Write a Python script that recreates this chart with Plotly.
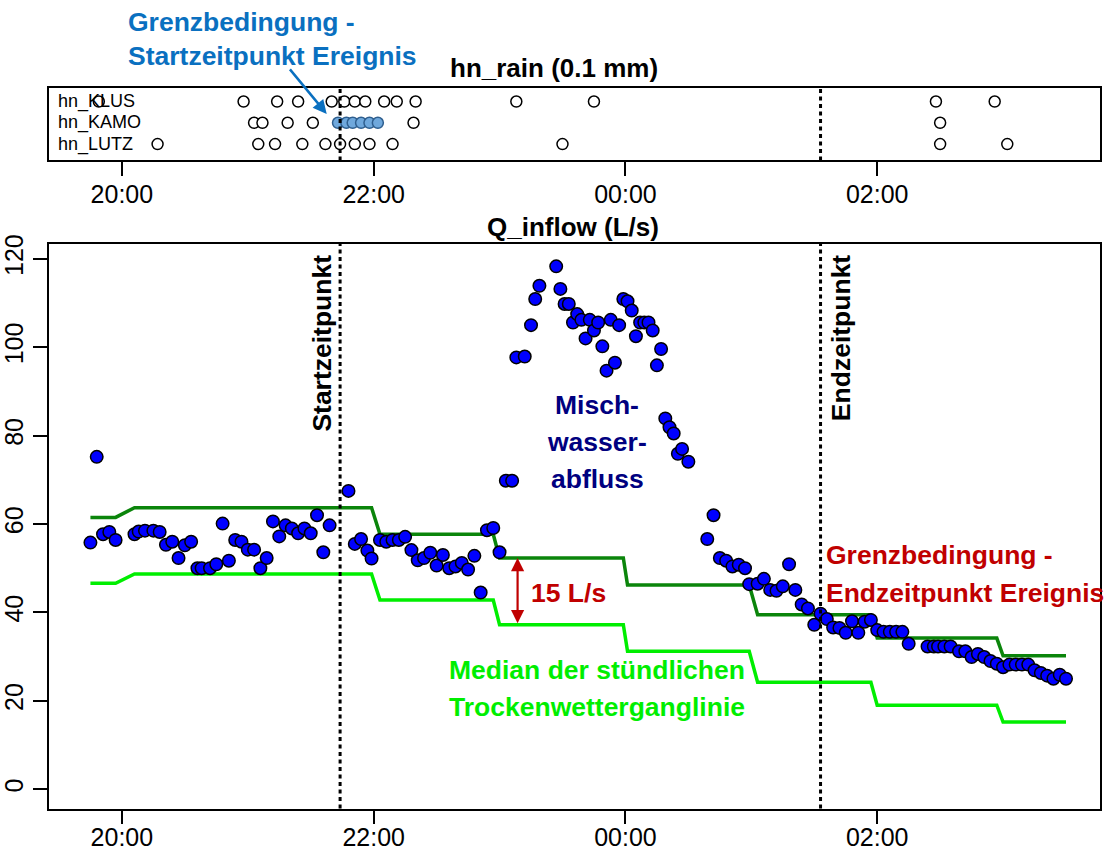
import plotly.graph_objects as go
from datetime import datetime

W, H = 1108, 856
FONT = "Liberation Sans, Arial, sans-serif"

# ---------------- data ----------------
q_times = ["19:45", "19:48", "19:51", "19:54", "19:57", "20:06", "20:08", "20:11", "20:15", "20:18",
           "20:21", "20:24", "20:27", "20:30", "20:33", "20:36", "20:38", "20:42", "20:45", "20:48",
           "20:51", "20:54", "20:57", "21:00", "21:03", "21:06", "21:09", "21:12", "21:15", "21:18",
           "21:21", "21:24", "21:27", "21:30", "21:33", "21:36", "21:39", "21:48", "21:51", "21:54",
           "21:57", "21:59", "22:03", "22:06", "22:09", "22:12", "22:15", "22:18", "22:21", "22:24",
           "22:27", "22:30", "22:33", "22:36", "22:39", "22:42", "22:45", "22:48", "22:51", "22:54",
           "22:57", "23:00", "23:03", "23:06", "23:08", "23:12", "23:15", "23:17", "23:19", "23:27",
           "23:29", "23:31", "23:33", "23:35", "23:37", "23:39", "23:41", "23:43", "23:45", "23:47",
           "23:49", "23:51", "23:53", "23:55", "23:57", "23:59", "00:01", "00:03", "00:05", "00:07",
           "00:09", "00:11", "00:13", "00:15", "00:17", "00:19", "00:21", "00:23", "00:25", "00:27",
           "00:30", "00:39", "00:42", "00:45", "00:48", "00:51", "00:54", "00:57", "00:59", "01:03",
           "01:06", "01:09", "01:12", "01:15", "01:18", "01:21", "01:24", "01:27", "01:30", "01:33",
           "01:36", "01:39", "01:42", "01:45", "01:48", "01:51", "01:54", "01:57", "02:00", "02:03",
           "02:06", "02:09", "02:12", "02:15", "02:24", "02:27", "02:29", "02:32", "02:35", "02:39",
           "02:42", "02:45", "02:48", "02:51", "02:54", "02:57", "03:00", "03:03", "03:06", "03:09",
           "03:12", "03:15", "03:18", "03:21", "03:24", "03:27", "03:30"]
q_values = [55.8, 75.2, 57.7, 58.2, 56.4, 57.7, 58.3, 58.5, 58.5, 58.2,
            55.3, 56.0, 52.3, 55.2, 56.0, 50.0, 50.0, 50.0, 50.9, 60.1,
            51.7, 56.4, 56.0, 54.2, 54.2, 50.0, 52.3, 60.6, 57.2, 59.7,
            59.0, 57.9, 59.0, 57.9, 62.0, 53.6, 59.7, 67.5, 55.5, 56.6,
            54.0, 52.2, 56.4, 56.0, 56.4, 56.4, 57.1, 54.1, 51.8, 52.3,
            53.5, 50.6, 53.0, 50.0, 50.4, 51.2, 49.7, 52.8, 44.5, 58.6,
            59.1, 53.6, 69.8, 69.8, 97.7, 97.9, 105.0, 110.9, 113.9, 118.3,
            113.2, 109.8, 109.8, 105.6, 107.5, 106.2, 102.0, 106.2, 103.8, 105.6,
            100.2, 94.7, 106.2, 96.5, 105.0, 110.9, 110.4, 108.3, 102.5, 105.6,
            105.6, 105.6, 103.8, 95.9, 99.6, 83.9, 81.9, 80.5, 75.9, 77.0,
            74.1, 56.6, 62.0, 52.3, 51.7, 50.4, 50.8, 50.0, 46.4, 46.5,
            47.6, 45.1, 44.9, 45.9, 50.9, 45.1, 41.8, 40.9, 37.2, 39.7,
            38.5, 36.6, 36.5, 35.4, 38.0, 35.4, 37.9, 38.3, 36.0, 35.6,
            35.6, 35.6, 35.6, 32.9, 32.3, 32.3, 32.3, 32.3, 32.3, 31.2,
            31.2, 29.9, 30.6, 29.9, 29.0, 28.4, 27.6, 28.2, 28.2, 28.2,
            28.2, 26.9, 26.3, 25.7, 25.0, 25.9, 25.0]

# hourly median of the dry-weather hydrograph and the +15 L/s limit
median_hours = [19, 20, 21, 22, 23, 0, 1, 2, 3]
median_dry = [46.6, 48.7, 48.7, 42.8, 37.2, 31.2, 24.2, 19.0, 15.2]
median_limit = [61.5, 63.7, 63.7, 57.7, 52.3, 46.2, 39.5, 34.2, 30.2]

rain_stations = ["hn_KLUS", "hn_KAMO", "hn_LUTZ"]
rain_klus = ["19:49", "20:58", "21:14", "21:24", "21:40", "21:46", "21:51", "21:56", "22:05",
             "22:11", "22:20", "23:08", "23:45", "02:28", "02:56"]
rain_kamo = ["21:03", "21:07", "21:19", "21:31", "22:19", "02:30"]
rain_kamo_start = ["21:43", "21:47", "21:50", "21:54", "21:58", "22:02"]
rain_lutz = ["20:17", "21:05", "21:13", "21:26", "21:37", "21:44", "21:51", "21:58", "22:09",
             "23:30", "02:30", "03:02"]

start_time = "21:44"
end_time = "01:33"
x_ticks = ["20:00", "22:00", "00:00", "02:00"]
y_ticks = [0, 20, 40, 60, 80, 100, 120]
x_range = ["19:25:14", "03:46:12"]
arrow_time = "23:08:36"


def to_dt(s):
    parts = [int(p) for p in s.split(":")]
    h, m = parts[0], parts[1]
    sec = parts[2] if len(parts) > 2 else 0
    day = 23 if h >= 12 else 24
    return datetime(2019, 7, day, h, m, sec)


q_dt = [to_dt(t) for t in q_times]
lim_map = dict(zip(median_hours, median_limit))
dry_map = dict(zip(median_hours, median_dry))
lim_line = [lim_map[d.hour] for d in q_dt]
dry_line = [dry_map[d.hour] for d in q_dt]


def px(x):
    return x / W


def py(y):
    return 1 - y / H


BLUE_TXT = "#0a70c0"
RED = "#c00000"
NAVY = "#00007f"
LGREEN = "#00ee00"
DGREEN = "#0b850b"

fig = go.Figure()

# ---------- rain panel ----------
row_y = {"hn_KLUS": 3, "hn_KAMO": 2, "hn_LUTZ": 1}
for name, times in [("hn_KLUS", rain_klus), ("hn_KAMO", rain_kamo), ("hn_LUTZ", rain_lutz)]:
    fig.add_trace(go.Scatter(
        x=[to_dt(t) for t in times], y=[row_y[name]] * len(times), mode="markers",
        marker=dict(size=11, color="white", line=dict(color="black", width=1.5)),
        xaxis="x", yaxis="y", showlegend=False, hoverinfo="skip"))
fig.add_trace(go.Scatter(
    x=[to_dt(t) for t in rain_kamo_start], y=[row_y["hn_KAMO"]] * len(rain_kamo_start),
    mode="markers",
    marker=dict(size=11, color="#6fa8dc", line=dict(color="#2f5f8f", width=1.5)),
    xaxis="x", yaxis="y", showlegend=False, hoverinfo="skip"))

# ---------- main panel ----------
fig.add_trace(go.Scatter(x=q_dt, y=lim_line, mode="lines",
                         line=dict(color=DGREEN, width=3.5),
                         xaxis="x2", yaxis="y2", showlegend=False))
fig.add_trace(go.Scatter(x=q_dt, y=dry_line, mode="lines",
                         line=dict(color=LGREEN, width=3.5),
                         xaxis="x2", yaxis="y2", showlegend=False))
fig.add_trace(go.Scatter(x=q_dt, y=q_values, mode="markers",
                         marker=dict(size=12.5, color="#0000ff", line=dict(color="black", width=1.5)),
                         xaxis="x2", yaxis="y2", showlegend=False))

# vertical dotted lines
shapes = []
for t in (start_time, end_time):
    for xr, yr in (("x", "y domain"), ("x2", "y2 domain")):
        shapes.append(dict(type="line", xref=xr, yref=yr, x0=to_dt(t), x1=to_dt(t), y0=0, y1=1,
                           line=dict(color="black", width=3, dash="4px,3.5px")))

ann = []


def text(t, x, y, color="black", size=26.5, bold=True, xanchor="center", yanchor="middle", angle=0):
    ann.append(dict(text=("<b>%s</b>" % t) if bold else t, x=px(x), y=py(y), xref="paper", yref="paper",
                    showarrow=False, xanchor=xanchor, yanchor=yanchor, textangle=angle,
                    font=dict(family=FONT, size=size, color=color)))


# top panel geometry (pixels)
TOP_BOX = (80, 153)
ROW_PX = (93.5, 115, 136.5)
# main panel geometry (pixels)
MAIN_BOX = (237, 808)
Y0_PX, Y120_PX = 788.5, 252.5

text("Grenzbedingung -", 125, 13, BLUE_TXT, xanchor="left")
text("Startzeitpunkt Ereignis", 125, 48, BLUE_TXT, xanchor="left")
text("hn_rain (0.1 mm)", 553, 60, size=26)
text("Q_inflow (L/s)", 573, 220, size=26)
for name, yy in zip(rain_stations, ROW_PX):
    text(name, 55, yy, size=18, bold=False, xanchor="left")
text("Startzeitpunkt", 321, 246, yanchor="top", angle=-90)
text("Endzeitpunkt", 841, 246, yanchor="top", angle=-90)
for line_txt, yy in zip(["Misch-", "wasser-", "abfluss"], (400, 438, 475)):
    text(line_txt, 597, yy, NAVY)
text("15 L/s", 528, 590, RED, xanchor="left")
text("Grenzbedingung -", 824, 552, RED, xanchor="left")
text("Endzeitpunkt Ereignis", 824, 590, RED, xanchor="left")
text("Median der stündlichen", 597, 668, LGREEN)
text("Trockenwetterganglinie", 597, 705, LGREEN)

# blue arrow to the start condition
ann.append(dict(x=px(326), y=py(106), xref="paper", yref="paper", ax=-38, ay=-46,
                showarrow=True, arrowhead=2, arrowsize=1.1, arrowwidth=2.5,
                arrowcolor=BLUE_TXT, text=""))
# red double arrow: 15 L/s between limit and median
ann.append(dict(x=to_dt(arrow_time), y=lim_map[23], xref="x2", yref="y2",
                ax=to_dt(arrow_time), ay=dry_map[23], axref="x2", ayref="y2",
                showarrow=True, arrowhead=2, startarrowhead=2, arrowside="end+start",
                arrowsize=1.2, startarrowsize=1.2, arrowwidth=2.2, arrowcolor=RED, text=""))

x_dom = [px(48), px(1100)]
axis_common = dict(showline=True, linecolor="black", linewidth=1.5, mirror=True,
                   showgrid=False, zeroline=False, ticks="outside", ticklen=14, tickwidth=1.5,
                   tickcolor="black", tickfont=dict(family=FONT, size=25, color="black"))

# top y-range so that rows 3/2/1 land on ROW_PX inside TOP_BOX
ppu = (ROW_PX[2] - ROW_PX[0]) / 2.0
top_range = [1 - (TOP_BOX[1] - ROW_PX[2]) / ppu, 3 + (ROW_PX[0] - TOP_BOX[0]) / ppu]
# main y-range so that 0 and 120 land on their pixel rows
mppu = (Y0_PX - Y120_PX) / 120.0
main_range = [-(MAIN_BOX[1] - Y0_PX) / mppu, 120 + (Y120_PX - MAIN_BOX[0]) / mppu]

fig.update_layout(
    width=W, height=H, margin=dict(l=0, r=0, t=0, b=0), autosize=False,
    paper_bgcolor="white", plot_bgcolor="white", showlegend=False,
    xaxis=dict(domain=x_dom, anchor="y", type="date",
               range=[to_dt(x_range[0]), to_dt(x_range[1])],
               tickvals=[to_dt(t) for t in x_ticks], ticktext=x_ticks, **axis_common),
    yaxis=dict(domain=[py(TOP_BOX[1]), py(TOP_BOX[0])], anchor="x", range=top_range,
               showticklabels=False, showline=True, linecolor="black", linewidth=1.5, mirror=True,
               showgrid=False, zeroline=False, ticks=""),
    xaxis2=dict(domain=x_dom, anchor="y2", type="date",
                range=[to_dt(x_range[0]), to_dt(x_range[1])],
                tickvals=[to_dt(t) for t in x_ticks], ticktext=x_ticks, **axis_common),
    yaxis2=dict(domain=[py(MAIN_BOX[1]), py(MAIN_BOX[0])], anchor="x2", range=main_range,
                tickvals=y_ticks, ticktext=[str(v) for v in y_ticks], tickangle=-90,
                **axis_common),
    shapes=shapes, annotations=ann,
)
try:
    fig.update_layout(xaxis_ticklabelstandoff=-3, xaxis2_ticklabelstandoff=-8)
except Exception:
    pass

fig.write_html("out.html", config={"displayModeBar": False},
               post_script="document.body.style.margin='0';document.body.style.overflow='hidden';")
